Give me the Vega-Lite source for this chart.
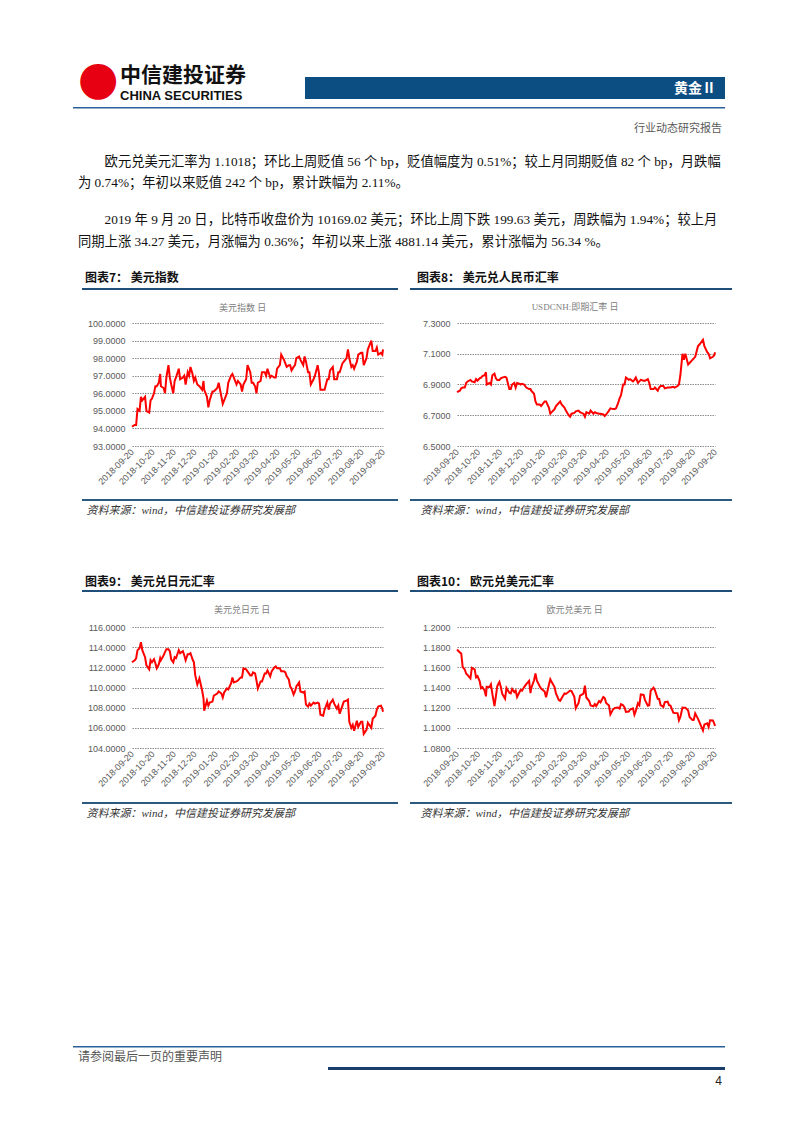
{
"$schema": "https://vega.github.io/schema/vega-lite/v6.json",
"padding": 0,
"autosize": {"type": "pad"},
"background": "white",
"bounds": "flush",
"spacing": 0,
"config": {"view": {"stroke": null}, "font": "Noto Sans CJK SC"},
"datasets": {"fx": [
{"d":"2018-09-20","dxy":94.1,"cnh":6.850,"jpy":112.5,"eur":1.1777},
{"d":"2018-09-24","dxy":94.2,"cnh":6.860,"jpy":112.7,"eur":1.1748},
{"d":"2018-09-26","dxy":94.2,"cnh":6.875,"jpy":112.9,"eur":1.1737},
{"d":"2018-09-28","dxy":95.1,"cnh":6.880,"jpy":113.7,"eur":1.1604},
{"d":"2018-10-01","dxy":95.0,"cnh":6.880,"jpy":113.9,"eur":1.1578},
{"d":"2018-10-03","dxy":95.8,"cnh":6.910,"jpy":114.5,"eur":1.1536},
{"d":"2018-10-05","dxy":95.6,"cnh":6.920,"jpy":113.7,"eur":1.1524},
{"d":"2018-10-09","dxy":95.8,"cnh":6.930,"jpy":113.0,"eur":1.1491},
{"d":"2018-10-11","dxy":95.0,"cnh":6.920,"jpy":112.2,"eur":1.1595},
{"d":"2018-10-15","dxy":94.9,"cnh":6.915,"jpy":111.8,"eur":1.1580},
{"d":"2018-10-17","dxy":95.6,"cnh":6.935,"jpy":112.7,"eur":1.1501},
{"d":"2018-10-19","dxy":95.7,"cnh":6.925,"jpy":112.5,"eur":1.1512},
{"d":"2018-10-22","dxy":96.0,"cnh":6.940,"jpy":112.8,"eur":1.1463},
{"d":"2018-10-24","dxy":96.4,"cnh":6.945,"jpy":112.4,"eur":1.1393},
{"d":"2018-10-26","dxy":96.4,"cnh":6.955,"jpy":111.9,"eur":1.1403},
{"d":"2018-10-29","dxy":96.6,"cnh":6.960,"jpy":112.3,"eur":1.1371},
{"d":"2018-10-31","dxy":97.1,"cnh":6.980,"jpy":112.9,"eur":1.1312},
{"d":"2018-11-01","dxy":96.4,"cnh":6.900,"jpy":112.7,"eur":1.1407},
{"d":"2018-11-05","dxy":96.3,"cnh":6.910,"jpy":113.2,"eur":1.1406},
{"d":"2018-11-07","dxy":96.0,"cnh":6.900,"jpy":113.5,"eur":1.1432},
{"d":"2018-11-09","dxy":96.9,"cnh":6.960,"jpy":113.8,"eur":1.1337},
{"d":"2018-11-12","dxy":97.6,"cnh":6.970,"jpy":113.8,"eur":1.1216},
{"d":"2018-11-14","dxy":96.9,"cnh":6.940,"jpy":113.6,"eur":1.1311},
{"d":"2018-11-16","dxy":96.5,"cnh":6.930,"jpy":112.8,"eur":1.1415},
{"d":"2018-11-19","dxy":96.0,"cnh":6.930,"jpy":112.5,"eur":1.1455},
{"d":"2018-11-21","dxy":96.7,"cnh":6.940,"jpy":113.0,"eur":1.1405},
{"d":"2018-11-23","dxy":96.9,"cnh":6.945,"jpy":112.9,"eur":1.1337},
{"d":"2018-11-27","dxy":97.4,"cnh":6.950,"jpy":113.7,"eur":1.1289},
{"d":"2018-11-29","dxy":96.8,"cnh":6.945,"jpy":113.4,"eur":1.1395},
{"d":"2018-12-03","dxy":96.9,"cnh":6.870,"jpy":113.6,"eur":1.1348},
{"d":"2018-12-05","dxy":97.0,"cnh":6.870,"jpy":113.2,"eur":1.1342},
{"d":"2018-12-07","dxy":96.5,"cnh":6.900,"jpy":112.7,"eur":1.1385},
{"d":"2018-12-10","dxy":97.2,"cnh":6.910,"jpy":113.3,"eur":1.1354},
{"d":"2018-12-12","dxy":97.0,"cnh":6.880,"jpy":113.3,"eur":1.1370},
{"d":"2018-12-14","dxy":97.5,"cnh":6.910,"jpy":113.4,"eur":1.1306},
{"d":"2018-12-17","dxy":97.1,"cnh":6.905,"jpy":112.8,"eur":1.1348},
{"d":"2018-12-19","dxy":96.7,"cnh":6.900,"jpy":112.5,"eur":1.1376},
{"d":"2018-12-21","dxy":96.9,"cnh":6.905,"jpy":111.2,"eur":1.1368},
{"d":"2018-12-24","dxy":96.5,"cnh":6.900,"jpy":110.3,"eur":1.1404},
{"d":"2018-12-27","dxy":96.4,"cnh":6.880,"jpy":110.9,"eur":1.1434},
{"d":"2018-12-31","dxy":96.2,"cnh":6.870,"jpy":109.7,"eur":1.1466},
{"d":"2019-01-02","dxy":96.7,"cnh":6.870,"jpy":108.9,"eur":1.1344},
{"d":"2019-01-03","dxy":96.2,"cnh":6.860,"jpy":107.7,"eur":1.1393},
{"d":"2019-01-07","dxy":95.8,"cnh":6.840,"jpy":108.7,"eur":1.1472},
{"d":"2019-01-09","dxy":95.2,"cnh":6.790,"jpy":108.2,"eur":1.1540},
{"d":"2019-01-11","dxy":95.6,"cnh":6.770,"jpy":108.5,"eur":1.1467},
{"d":"2019-01-15","dxy":96.1,"cnh":6.770,"jpy":108.6,"eur":1.1412},
{"d":"2019-01-17","dxy":96.1,"cnh":6.760,"jpy":109.2,"eur":1.1389},
{"d":"2019-01-22","dxy":96.3,"cnh":6.790,"jpy":109.4,"eur":1.1360},
{"d":"2019-01-24","dxy":96.6,"cnh":6.790,"jpy":109.6,"eur":1.1304},
{"d":"2019-01-28","dxy":95.8,"cnh":6.750,"jpy":109.4,"eur":1.1427},
{"d":"2019-01-30","dxy":95.4,"cnh":6.710,"jpy":109.0,"eur":1.1482},
{"d":"2019-02-01","dxy":95.6,"cnh":6.720,"jpy":109.5,"eur":1.1455},
{"d":"2019-02-05","dxy":96.0,"cnh":6.740,"jpy":109.9,"eur":1.1405},
{"d":"2019-02-07","dxy":96.6,"cnh":6.760,"jpy":109.8,"eur":1.1341},
{"d":"2019-02-11","dxy":97.0,"cnh":6.780,"jpy":110.4,"eur":1.1276},
{"d":"2019-02-13","dxy":97.1,"cnh":6.790,"jpy":111.0,"eur":1.1267},
{"d":"2019-02-15","dxy":96.9,"cnh":6.770,"jpy":110.5,"eur":1.1294},
{"d":"2019-02-19","dxy":96.5,"cnh":6.750,"jpy":110.6,"eur":1.1341},
{"d":"2019-02-21","dxy":96.7,"cnh":6.730,"jpy":110.7,"eur":1.1336},
{"d":"2019-02-25","dxy":96.5,"cnh":6.700,"jpy":111.0,"eur":1.1358},
{"d":"2019-02-27","dxy":96.1,"cnh":6.690,"jpy":111.0,"eur":1.1370},
{"d":"2019-03-01","dxy":96.5,"cnh":6.710,"jpy":111.9,"eur":1.1365},
{"d":"2019-03-05","dxy":96.8,"cnh":6.715,"jpy":111.8,"eur":1.1307},
{"d":"2019-03-07","dxy":97.6,"cnh":6.725,"jpy":111.6,"eur":1.1194},
{"d":"2019-03-11","dxy":97.2,"cnh":6.730,"jpy":111.2,"eur":1.1246},
{"d":"2019-03-13","dxy":96.6,"cnh":6.720,"jpy":111.2,"eur":1.1318},
{"d":"2019-03-15","dxy":96.6,"cnh":6.715,"jpy":111.5,"eur":1.1327},
{"d":"2019-03-18","dxy":96.4,"cnh":6.710,"jpy":111.4,"eur":1.1340},
{"d":"2019-03-20","dxy":96.0,"cnh":6.690,"jpy":110.7,"eur":1.1418},
{"d":"2019-03-22","dxy":96.6,"cnh":6.720,"jpy":109.9,"eur":1.1301},
{"d":"2019-03-26","dxy":96.7,"cnh":6.710,"jpy":110.6,"eur":1.1266},
{"d":"2019-03-28","dxy":97.2,"cnh":6.730,"jpy":110.6,"eur":1.1222},
{"d":"2019-04-01","dxy":97.2,"cnh":6.710,"jpy":111.4,"eur":1.1214},
{"d":"2019-04-03","dxy":97.0,"cnh":6.720,"jpy":111.4,"eur":1.1236},
{"d":"2019-04-05","dxy":97.4,"cnh":6.715,"jpy":111.7,"eur":1.1216},
{"d":"2019-04-09","dxy":96.9,"cnh":6.710,"jpy":111.1,"eur":1.1265},
{"d":"2019-04-11","dxy":97.0,"cnh":6.710,"jpy":111.6,"eur":1.1253},
{"d":"2019-04-15","dxy":96.9,"cnh":6.705,"jpy":112.0,"eur":1.1306},
{"d":"2019-04-17","dxy":96.9,"cnh":6.695,"jpy":112.1,"eur":1.1295},
{"d":"2019-04-19","dxy":97.4,"cnh":6.705,"jpy":111.9,"eur":1.1246},
{"d":"2019-04-23","dxy":97.6,"cnh":6.730,"jpy":111.9,"eur":1.1222},
{"d":"2019-04-25","dxy":98.2,"cnh":6.745,"jpy":111.6,"eur":1.1133},
{"d":"2019-04-29","dxy":97.9,"cnh":6.740,"jpy":111.6,"eur":1.1186},
{"d":"2019-05-01","dxy":97.7,"cnh":6.740,"jpy":111.5,"eur":1.1196},
{"d":"2019-05-03","dxy":97.5,"cnh":6.745,"jpy":111.1,"eur":1.1199},
{"d":"2019-05-06","dxy":97.6,"cnh":6.780,"jpy":110.8,"eur":1.1201},
{"d":"2019-05-08","dxy":97.6,"cnh":6.810,"jpy":110.1,"eur":1.1190},
{"d":"2019-05-10","dxy":97.3,"cnh":6.830,"jpy":109.9,"eur":1.1234},
{"d":"2019-05-13","dxy":97.5,"cnh":6.900,"jpy":109.3,"eur":1.1224},
{"d":"2019-05-15","dxy":97.6,"cnh":6.900,"jpy":109.6,"eur":1.1202},
{"d":"2019-05-17","dxy":98.0,"cnh":6.945,"jpy":110.1,"eur":1.1157},
{"d":"2019-05-21","dxy":98.1,"cnh":6.930,"jpy":110.5,"eur":1.1161},
{"d":"2019-05-23","dxy":97.9,"cnh":6.935,"jpy":109.6,"eur":1.1182},
{"d":"2019-05-27","dxy":97.6,"cnh":6.920,"jpy":109.5,"eur":1.1194},
{"d":"2019-05-29","dxy":98.1,"cnh":6.930,"jpy":109.6,"eur":1.1130},
{"d":"2019-05-31","dxy":97.8,"cnh":6.945,"jpy":108.3,"eur":1.1168},
{"d":"2019-06-03","dxy":97.2,"cnh":6.910,"jpy":108.1,"eur":1.1243},
{"d":"2019-06-05","dxy":97.2,"cnh":6.920,"jpy":108.4,"eur":1.1224},
{"d":"2019-06-07","dxy":96.5,"cnh":6.930,"jpy":108.2,"eur":1.1332},
{"d":"2019-06-11","dxy":96.8,"cnh":6.925,"jpy":108.5,"eur":1.1326},
{"d":"2019-06-13","dxy":97.0,"cnh":6.925,"jpy":108.4,"eur":1.1275},
{"d":"2019-06-17","dxy":97.6,"cnh":6.935,"jpy":108.5,"eur":1.1219},
{"d":"2019-06-19","dxy":97.1,"cnh":6.910,"jpy":108.4,"eur":1.1224},
{"d":"2019-06-21","dxy":96.2,"cnh":6.870,"jpy":107.3,"eur":1.1369},
{"d":"2019-06-25","dxy":96.2,"cnh":6.870,"jpy":107.2,"eur":1.1398},
{"d":"2019-06-27","dxy":96.2,"cnh":6.880,"jpy":107.8,"eur":1.1374},
{"d":"2019-07-01","dxy":96.8,"cnh":6.860,"jpy":108.5,"eur":1.1288},
{"d":"2019-07-03","dxy":96.8,"cnh":6.880,"jpy":107.8,"eur":1.1286},
{"d":"2019-07-05","dxy":97.3,"cnh":6.890,"jpy":108.4,"eur":1.1226},
{"d":"2019-07-09","dxy":97.5,"cnh":6.890,"jpy":108.8,"eur":1.1208},
{"d":"2019-07-11","dxy":96.8,"cnh":6.875,"jpy":108.4,"eur":1.1254},
{"d":"2019-07-15","dxy":96.8,"cnh":6.880,"jpy":107.9,"eur":1.1260},
{"d":"2019-07-17","dxy":97.2,"cnh":6.880,"jpy":108.2,"eur":1.1225},
{"d":"2019-07-19","dxy":97.2,"cnh":6.880,"jpy":107.4,"eur":1.1221},
{"d":"2019-07-23","dxy":97.7,"cnh":6.885,"jpy":108.2,"eur":1.1151},
{"d":"2019-07-25","dxy":97.8,"cnh":6.880,"jpy":108.6,"eur":1.1147},
{"d":"2019-07-29","dxy":98.0,"cnh":6.890,"jpy":108.7,"eur":1.1146},
{"d":"2019-07-31","dxy":98.5,"cnh":6.900,"jpy":108.8,"eur":1.1075},
{"d":"2019-08-02","dxy":98.0,"cnh":6.960,"jpy":106.6,"eur":1.1108},
{"d":"2019-08-05","dxy":97.5,"cnh":7.100,"jpy":106.0,"eur":1.1201},
{"d":"2019-08-07","dxy":97.6,"cnh":7.060,"jpy":106.3,"eur":1.1200},
{"d":"2019-08-09","dxy":97.4,"cnh":7.100,"jpy":105.7,"eur":1.1200},
{"d":"2019-08-13","dxy":97.8,"cnh":7.030,"jpy":106.7,"eur":1.1172},
{"d":"2019-08-15","dxy":98.2,"cnh":7.040,"jpy":106.1,"eur":1.1108},
{"d":"2019-08-19","dxy":98.3,"cnh":7.060,"jpy":106.6,"eur":1.1078},
{"d":"2019-08-21","dxy":98.3,"cnh":7.070,"jpy":106.6,"eur":1.1080},
{"d":"2019-08-23","dxy":97.6,"cnh":7.080,"jpy":105.4,"eur":1.1143},
{"d":"2019-08-27","dxy":98.0,"cnh":7.150,"jpy":105.8,"eur":1.1089},
{"d":"2019-08-29","dxy":98.5,"cnh":7.160,"jpy":106.5,"eur":1.1057},
{"d":"2019-09-03","dxy":99.0,"cnh":7.190,"jpy":106.0,"eur":1.0973},
{"d":"2019-09-05","dxy":98.4,"cnh":7.150,"jpy":106.9,"eur":1.1033},
{"d":"2019-09-09","dxy":98.4,"cnh":7.110,"jpy":107.2,"eur":1.1045},
{"d":"2019-09-11","dxy":98.6,"cnh":7.100,"jpy":107.8,"eur":1.1009},
{"d":"2019-09-13","dxy":98.2,"cnh":7.070,"jpy":108.1,"eur":1.1074},
{"d":"2019-09-17","dxy":98.3,"cnh":7.080,"jpy":108.2,"eur":1.1072},
{"d":"2019-09-19","dxy":98.2,"cnh":7.090,"jpy":107.9,"eur":1.1043},
{"d":"2019-09-20","dxy":98.5,"cnh":7.110,"jpy":107.6,"eur":1.1018}
]},
"vconcat": [
{"width": 802, "height": 40, "data": {"values": []}, "mark": "point", "encoding": {}, "view": {"fill": "#ffffff", "stroke": null},
 "title": {"text": "●", "orient": "bottom", "anchor": "start", "frame": "group", "align": "center", "baseline": "middle", "dx": 98, "offset": 40, "font": "DejaVu Sans", "fontSize": 47, "fontWeight": "normal", "color": "#e60012"}},
{"width": 802, "height": 37, "data": {"values": []}, "mark": "point", "encoding": {},
 "title": {"text": "中信建投证券", "subtitle": "CHINA SECURITIES", "orient": "bottom", "anchor": "start", "frame": "group", "align": "left", "baseline": "middle", "dx": 120, "offset": -1.4, "font": "Noto Sans CJK SC", "fontSize": 21, "fontWeight": "bold", "color": "#111111", "subtitleFont": "Liberation Sans", "subtitleFontSize": 13, "subtitleFontWeight": "bold", "subtitleColor": "#111111", "subtitlePadding": -0.6}},
{"width": 802, "height": 22, "data": {"values": []}, "mark": "point", "encoding": {},
 "view": {"stroke": null, "fill": {"gradient": "linear", "x1": 0, "y1": 0, "x2": 1, "y2": 0, "stops": [{"offset": 0, "color": "rgba(255,255,255,0)"}, {"offset": 0.3803, "color": "rgba(255,255,255,0)"}, {"offset": 0.3803, "color": "#0d4e82"}, {"offset": 0.904, "color": "#0d4e82"}, {"offset": 0.904, "color": "rgba(255,255,255,0)"}, {"offset": 1, "color": "rgba(255,255,255,0)"}]}},
 "title": {"text": "黄金Ⅱ", "orient": "bottom", "anchor": "end", "frame": "group", "align": "right", "baseline": "middle", "dx": -86, "offset": -9.9, "font": "Noto Sans CJK SC", "fontSize": 14, "fontWeight": "bold", "color": "#ffffff"}},
{"width": 802, "height": 8, "data": {"values": []}, "mark": "point", "encoding": {}},
{"width": 802, "height": 1.5, "data": {"values": []}, "mark": "point", "encoding": {},
 "view": {"stroke": null, "fill": {"gradient": "linear", "x1": 0, "y1": 0, "x2": 1, "y2": 0, "stops": [{"offset": 0, "color": "rgba(255,255,255,0)"}, {"offset": 0.091, "color": "rgba(255,255,255,0)"}, {"offset": 0.091, "color": "#2a6099"}, {"offset": 0.904, "color": "#2a6099"}, {"offset": 0.904, "color": "rgba(255,255,255,0)"}, {"offset": 1, "color": "rgba(255,255,255,0)"}]}},
 "title": {"text": "行业动态研究报告", "orient": "bottom", "anchor": "end", "frame": "group", "align": "right", "baseline": "middle", "dx": -80, "offset": 20.4, "font": "Noto Sans CJK SC", "fontSize": 11, "fontWeight": "normal", "color": "#595959"}},
{"width": 802, "height": 91.5, "data": {"values": []}, "mark": "point", "encoding": {},
 "title": {"text": ["\u200c\u3000\u3000欧元兑美元汇率为 1.1018；环比上周贬值 56 个 bp，贬值幅度为 0.51%；较上月同期贬值 82 个 bp，月跌幅", "为 0.74%；年初以来贬值 242 个 bp，累计跌幅为 2.11%。"],
  "subtitle": ["\u200c\u3000\u30002019 年 9 月 20 日，比特币收盘价为 10169.02 美元；环比上周下跌 199.63 美元，周跌幅为 1.94%；较上月", "同期上涨 34.27 美元，月涨幅为 0.36%；年初以来上涨 4881.14 美元，累计涨幅为 56.34 %。"],
  "orient": "bottom", "anchor": "start", "frame": "group", "align": "left", "baseline": "middle", "dx": 78, "offset": -38.9,
  "font": "Liberation Serif, Noto Sans CJK SC", "fontSize": 13.3, "fontWeight": "normal", "color": "#111111", "lineHeight": 21.5,
  "subtitleFont": "Liberation Serif, Noto Sans CJK SC", "subtitleFontSize": 13.3, "subtitleFontWeight": "normal", "subtitleColor": "#111111", "subtitleLineHeight": 22, "subtitlePadding": 23.2}},
{"width": 802, "height": 87, "data": {"values": []}, "mark": "point", "encoding": {},
 "title": {"text": "图表7：  美元指数", "orient": "bottom", "anchor": "start", "frame": "group", "align": "left", "baseline": "middle", "dx": 85, "offset": -10, "font": "Noto Sans CJK SC", "fontSize": 12, "fontWeight": "bold", "color": "#111111"}},
{"width": 802, "height": 2, "data": {"values": []}, "mark": "point", "encoding": {},
 "view": {"stroke": null, "fill": {"gradient": "linear", "x1": 0, "y1": 0, "x2": 1, "y2": 0, "stops": [{"offset": 0, "color": "rgba(255,255,255,0)"}, {"offset": 0.1022, "color": "rgba(255,255,255,0)"}, {"offset": 0.1022, "color": "#1f4e79"}, {"offset": 0.4963, "color": "#1f4e79"}, {"offset": 0.4963, "color": "rgba(255,255,255,0)"}, {"offset": 0.5112, "color": "rgba(255,255,255,0)"}, {"offset": 0.5112, "color": "#1f4e79"}, {"offset": 0.9127, "color": "#1f4e79"}, {"offset": 0.9127, "color": "rgba(255,255,255,0)"}, {"offset": 1, "color": "rgba(255,255,255,0)"}]}},
 "title": {"text": "图表8：  美元兑人民币汇率", "orient": "bottom", "anchor": "start", "frame": "group", "align": "left", "baseline": "middle", "dx": 417, "offset": -12, "font": "Noto Sans CJK SC", "fontSize": 12, "fontWeight": "bold", "color": "#111111"}},
{"width": 802, "height": 33, "data": {"values": []}, "mark": "point", "encoding": {}},
{"width": 802, "height": 123,
 "layer": [
  {"data": {"name": "fx"}, "mark": {"type": "line", "color": "#ff0000", "strokeWidth": 2},
   "encoding": {
    "x": {"field": "d", "type": "temporal",
     "scale": {"type": "utc", "domain": [{"year": 2018, "month": 9, "date": 20, "utc": true}, {"year": 2019, "month": 9, "date": 20, "utc": true}], "range": [132, 383]},
     "axis": {"orient": "bottom", "values": [{"year": 2018, "month": 9, "date": 20, "utc": true}, {"year": 2018, "month": 10, "date": 20, "utc": true}, {"year": 2018, "month": 11, "date": 20, "utc": true}, {"year": 2018, "month": 12, "date": 20, "utc": true}, {"year": 2019, "month": 1, "date": 20, "utc": true}, {"year": 2019, "month": 2, "date": 20, "utc": true}, {"year": 2019, "month": 3, "date": 20, "utc": true}, {"year": 2019, "month": 4, "date": 20, "utc": true}, {"year": 2019, "month": 5, "date": 20, "utc": true}, {"year": 2019, "month": 6, "date": 20, "utc": true}, {"year": 2019, "month": 7, "date": 20, "utc": true}, {"year": 2019, "month": 8, "date": 20, "utc": true}, {"year": 2019, "month": 9, "date": 20, "utc": true}],
      "format": "%Y-%m-%d", "labelAngle": -45, "labelAlign": "right", "labelBaseline": "middle", "labelFont": "Liberation Sans", "labelFontSize": 9, "labelColor": "#595959", "labelPadding": 4, "labelOverlap": false, "labelBound": false, "labelFlush": false, "domain": false, "ticks": false, "tickSize": 0, "grid": false,
      "title": "资料来源：wind，中信建投证券研究发展部", "titleX": 86, "titleY": 64.4, "titleAlign": "left", "titleBaseline": "middle", "titleAngle": 0, "titleFont": "Liberation Serif, Noto Sans CJK SC", "titleFontSize": 11, "titleFontStyle": "italic", "titleFontWeight": "normal", "titleColor": "#333333"}},
    "y": {"field": "dxy", "type": "quantitative", "scale": {"domain": [93, 100], "zero": false, "nice": false},
     "axis": {"orient": "left", "offset": -132, "values": [93, 94, 95, 96, 97, 98, 99, 100], "format": ".4f", "grid": true, "gridColor": "#8c8c8c", "gridDash": [1.5, 1], "gridWidth": 1, "domain": false, "ticks": false, "tickSize": 0, "labelFont": "Liberation Sans", "labelFontSize": 9, "labelColor": "#595959", "labelPadding": 7, "labelOverlap": false, "labelBound": false, "labelFlush": false,
      "title": "美元指数 日", "titleX": 110, "titleY": -15.3, "titleAngle": 0, "titleAlign": "center", "titleBaseline": "middle", "titleFont": "Liberation Serif, Noto Sans CJK SC", "titleFontSize": 9, "titleFontWeight": "normal", "titleColor": "#808080"}}
   }},
  {"data": {"name": "fx"}, "mark": {"type": "line", "color": "#ff0000", "strokeWidth": 2},
   "encoding": {
    "x": {"field": "d", "type": "temporal",
     "scale": {"type": "utc", "domain": [{"year": 2018, "month": 9, "date": 20, "utc": true}, {"year": 2019, "month": 9, "date": 20, "utc": true}], "range": [457, 715]},
     "axis": {"orient": "bottom", "values": [{"year": 2018, "month": 9, "date": 20, "utc": true}, {"year": 2018, "month": 10, "date": 20, "utc": true}, {"year": 2018, "month": 11, "date": 20, "utc": true}, {"year": 2018, "month": 12, "date": 20, "utc": true}, {"year": 2019, "month": 1, "date": 20, "utc": true}, {"year": 2019, "month": 2, "date": 20, "utc": true}, {"year": 2019, "month": 3, "date": 20, "utc": true}, {"year": 2019, "month": 4, "date": 20, "utc": true}, {"year": 2019, "month": 5, "date": 20, "utc": true}, {"year": 2019, "month": 6, "date": 20, "utc": true}, {"year": 2019, "month": 7, "date": 20, "utc": true}, {"year": 2019, "month": 8, "date": 20, "utc": true}, {"year": 2019, "month": 9, "date": 20, "utc": true}],
      "format": "%Y-%m-%d", "labelAngle": -45, "labelAlign": "right", "labelBaseline": "middle", "labelFont": "Liberation Sans", "labelFontSize": 9, "labelColor": "#595959", "labelPadding": 4, "labelOverlap": false, "labelBound": false, "labelFlush": false, "domain": false, "ticks": false, "tickSize": 0, "grid": false,
      "title": "资料来源：wind，中信建投证券研究发展部", "titleX": 420, "titleY": 64.4, "titleAlign": "left", "titleBaseline": "middle", "titleAngle": 0, "titleFont": "Liberation Serif, Noto Sans CJK SC", "titleFontSize": 11, "titleFontStyle": "italic", "titleFontWeight": "normal", "titleColor": "#333333"}},
    "y": {"field": "cnh", "type": "quantitative", "scale": {"domain": [6.5, 7.3], "zero": false, "nice": false},
     "axis": {"orient": "left", "offset": -457, "values": [6.5, 6.7, 6.9, 7.1, 7.3], "format": ".4f", "grid": true, "gridColor": "#8c8c8c", "gridDash": [1.5, 1], "gridWidth": 1, "domain": false, "ticks": false, "tickSize": 0, "labelFont": "Liberation Sans", "labelFontSize": 9, "labelColor": "#595959", "labelPadding": 7, "labelOverlap": false, "labelBound": false, "labelFlush": false,
      "title": "USDCNH:即期汇率 日", "titleX": 117.5, "titleY": -16.3, "titleAngle": 0, "titleAlign": "center", "titleBaseline": "middle", "titleFont": "Liberation Serif, Noto Sans CJK SC", "titleFontSize": 9, "titleFontWeight": "normal", "titleColor": "#808080"}}
   }}
 ],
 "resolve": {"scale": {"x": "independent", "y": "independent"}, "axis": {"x": "independent", "y": "independent"}}},
{"width": 802, "height": 53, "data": {"values": []}, "mark": "point", "encoding": {}},
{"width": 802, "height": 2, "data": {"values": []}, "mark": "point", "encoding": {},
 "view": {"stroke": null, "fill": {"gradient": "linear", "x1": 0, "y1": 0, "x2": 1, "y2": 0, "stops": [{"offset": 0, "color": "rgba(255,255,255,0)"}, {"offset": 0.1022, "color": "rgba(255,255,255,0)"}, {"offset": 0.1022, "color": "#2b5a7e"}, {"offset": 0.4963, "color": "#2b5a7e"}, {"offset": 0.4963, "color": "rgba(255,255,255,0)"}, {"offset": 0.5112, "color": "rgba(255,255,255,0)"}, {"offset": 0.5112, "color": "#2b5a7e"}, {"offset": 0.9127, "color": "#2b5a7e"}, {"offset": 0.9127, "color": "rgba(255,255,255,0)"}, {"offset": 1, "color": "rgba(255,255,255,0)"}]}}},
{"width": 802, "height": 89, "data": {"values": []}, "mark": "point", "encoding": {},
 "title": {"text": "图表9：  美元兑日元汇率", "orient": "bottom", "anchor": "start", "frame": "group", "align": "left", "baseline": "middle", "dx": 85, "offset": -8, "font": "Noto Sans CJK SC", "fontSize": 12, "fontWeight": "bold", "color": "#111111"}},
{"width": 802, "height": 2, "data": {"values": []}, "mark": "point", "encoding": {},
 "view": {"stroke": null, "fill": {"gradient": "linear", "x1": 0, "y1": 0, "x2": 1, "y2": 0, "stops": [{"offset": 0, "color": "rgba(255,255,255,0)"}, {"offset": 0.1022, "color": "rgba(255,255,255,0)"}, {"offset": 0.1022, "color": "#1f4e79"}, {"offset": 0.4963, "color": "#1f4e79"}, {"offset": 0.4963, "color": "rgba(255,255,255,0)"}, {"offset": 0.5112, "color": "rgba(255,255,255,0)"}, {"offset": 0.5112, "color": "#1f4e79"}, {"offset": 0.9127, "color": "#1f4e79"}, {"offset": 0.9127, "color": "rgba(255,255,255,0)"}, {"offset": 1, "color": "rgba(255,255,255,0)"}]}},
 "title": {"text": "图表10：  欧元兑美元汇率", "orient": "bottom", "anchor": "start", "frame": "group", "align": "left", "baseline": "middle", "dx": 417, "offset": -10, "font": "Noto Sans CJK SC", "fontSize": 12, "fontWeight": "bold", "color": "#111111"}},
{"width": 802, "height": 35, "data": {"values": []}, "mark": "point", "encoding": {}},
{"width": 802, "height": 121,
 "layer": [
  {"data": {"name": "fx"}, "mark": {"type": "line", "color": "#ff0000", "strokeWidth": 2},
   "encoding": {
    "x": {"field": "d", "type": "temporal",
     "scale": {"type": "utc", "domain": [{"year": 2018, "month": 9, "date": 20, "utc": true}, {"year": 2019, "month": 9, "date": 20, "utc": true}], "range": [132, 383]},
     "axis": {"orient": "bottom", "values": [{"year": 2018, "month": 9, "date": 20, "utc": true}, {"year": 2018, "month": 10, "date": 20, "utc": true}, {"year": 2018, "month": 11, "date": 20, "utc": true}, {"year": 2018, "month": 12, "date": 20, "utc": true}, {"year": 2019, "month": 1, "date": 20, "utc": true}, {"year": 2019, "month": 2, "date": 20, "utc": true}, {"year": 2019, "month": 3, "date": 20, "utc": true}, {"year": 2019, "month": 4, "date": 20, "utc": true}, {"year": 2019, "month": 5, "date": 20, "utc": true}, {"year": 2019, "month": 6, "date": 20, "utc": true}, {"year": 2019, "month": 7, "date": 20, "utc": true}, {"year": 2019, "month": 8, "date": 20, "utc": true}, {"year": 2019, "month": 9, "date": 20, "utc": true}],
      "format": "%Y-%m-%d", "labelAngle": -45, "labelAlign": "right", "labelBaseline": "middle", "labelFont": "Liberation Sans", "labelFontSize": 9, "labelColor": "#595959", "labelPadding": 4, "labelOverlap": false, "labelBound": false, "labelFlush": false, "domain": false, "ticks": false, "tickSize": 0, "grid": false,
      "title": "资料来源：wind，中信建投证券研究发展部", "titleX": 86, "titleY": 65.9, "titleAlign": "left", "titleBaseline": "middle", "titleAngle": 0, "titleFont": "Liberation Serif, Noto Sans CJK SC", "titleFontSize": 11, "titleFontStyle": "italic", "titleFontWeight": "normal", "titleColor": "#333333"}},
    "y": {"field": "jpy", "type": "quantitative", "scale": {"domain": [104, 116], "zero": false, "nice": false},
     "axis": {"orient": "left", "offset": -132, "values": [104, 106, 108, 110, 112, 114, 116], "format": ".4f", "grid": true, "gridColor": "#8c8c8c", "gridDash": [1.5, 1], "gridWidth": 1, "domain": false, "ticks": false, "tickSize": 0, "labelFont": "Liberation Sans", "labelFontSize": 9, "labelColor": "#595959", "labelPadding": 7, "labelOverlap": false, "labelBound": false, "labelFlush": false,
      "title": "美元兑日元 日", "titleX": 109.5, "titleY": -17.3, "titleAngle": 0, "titleAlign": "center", "titleBaseline": "middle", "titleFont": "Liberation Serif, Noto Sans CJK SC", "titleFontSize": 9, "titleFontWeight": "normal", "titleColor": "#808080"}}
   }},
  {"data": {"name": "fx"}, "mark": {"type": "line", "color": "#ff0000", "strokeWidth": 2},
   "encoding": {
    "x": {"field": "d", "type": "temporal",
     "scale": {"type": "utc", "domain": [{"year": 2018, "month": 9, "date": 20, "utc": true}, {"year": 2019, "month": 9, "date": 20, "utc": true}], "range": [457, 715]},
     "axis": {"orient": "bottom", "values": [{"year": 2018, "month": 9, "date": 20, "utc": true}, {"year": 2018, "month": 10, "date": 20, "utc": true}, {"year": 2018, "month": 11, "date": 20, "utc": true}, {"year": 2018, "month": 12, "date": 20, "utc": true}, {"year": 2019, "month": 1, "date": 20, "utc": true}, {"year": 2019, "month": 2, "date": 20, "utc": true}, {"year": 2019, "month": 3, "date": 20, "utc": true}, {"year": 2019, "month": 4, "date": 20, "utc": true}, {"year": 2019, "month": 5, "date": 20, "utc": true}, {"year": 2019, "month": 6, "date": 20, "utc": true}, {"year": 2019, "month": 7, "date": 20, "utc": true}, {"year": 2019, "month": 8, "date": 20, "utc": true}, {"year": 2019, "month": 9, "date": 20, "utc": true}],
      "format": "%Y-%m-%d", "labelAngle": -45, "labelAlign": "right", "labelBaseline": "middle", "labelFont": "Liberation Sans", "labelFontSize": 9, "labelColor": "#595959", "labelPadding": 4, "labelOverlap": false, "labelBound": false, "labelFlush": false, "domain": false, "ticks": false, "tickSize": 0, "grid": false,
      "title": "资料来源：wind，中信建投证券研究发展部", "titleX": 420, "titleY": 65.9, "titleAlign": "left", "titleBaseline": "middle", "titleAngle": 0, "titleFont": "Liberation Serif, Noto Sans CJK SC", "titleFontSize": 11, "titleFontStyle": "italic", "titleFontWeight": "normal", "titleColor": "#333333"}},
    "y": {"field": "eur", "type": "quantitative", "scale": {"domain": [1.08, 1.2], "zero": false, "nice": false},
     "axis": {"orient": "left", "offset": -457, "values": [1.08, 1.1, 1.12, 1.14, 1.16, 1.18, 1.2], "format": ".4f", "grid": true, "gridColor": "#8c8c8c", "gridDash": [1.5, 1], "gridWidth": 1, "domain": false, "ticks": false, "tickSize": 0, "labelFont": "Liberation Sans", "labelFontSize": 9, "labelColor": "#595959", "labelPadding": 7, "labelOverlap": false, "labelBound": false, "labelFlush": false,
      "title": "欧元兑美元 日", "titleX": 117, "titleY": -17.3, "titleAngle": 0, "titleAlign": "center", "titleBaseline": "middle", "titleFont": "Liberation Serif, Noto Sans CJK SC", "titleFontSize": 9, "titleFontWeight": "normal", "titleColor": "#808080"}}
   }}
 ],
 "resolve": {"scale": {"x": "independent", "y": "independent"}, "axis": {"x": "independent", "y": "independent"}}},
{"width": 802, "height": 54, "data": {"values": []}, "mark": "point", "encoding": {}},
{"width": 802, "height": 2, "data": {"values": []}, "mark": "point", "encoding": {},
 "view": {"stroke": null, "fill": {"gradient": "linear", "x1": 0, "y1": 0, "x2": 1, "y2": 0, "stops": [{"offset": 0, "color": "rgba(255,255,255,0)"}, {"offset": 0.1022, "color": "rgba(255,255,255,0)"}, {"offset": 0.1022, "color": "#2b5a7e"}, {"offset": 0.4963, "color": "#2b5a7e"}, {"offset": 0.4963, "color": "rgba(255,255,255,0)"}, {"offset": 0.5112, "color": "rgba(255,255,255,0)"}, {"offset": 0.5112, "color": "#2b5a7e"}, {"offset": 0.9127, "color": "#2b5a7e"}, {"offset": 0.9127, "color": "rgba(255,255,255,0)"}, {"offset": 1, "color": "rgba(255,255,255,0)"}]}}},
{"width": 802, "height": 242, "data": {"values": []}, "mark": "point", "encoding": {}},
{"width": 802, "height": 1.5, "data": {"values": []}, "mark": "point", "encoding": {},
 "view": {"stroke": null, "fill": {"gradient": "linear", "x1": 0, "y1": 0, "x2": 1, "y2": 0, "stops": [{"offset": 0, "color": "rgba(255,255,255,0)"}, {"offset": 0.091, "color": "rgba(255,255,255,0)"}, {"offset": 0.091, "color": "#2a6099"}, {"offset": 0.904, "color": "#2a6099"}, {"offset": 0.904, "color": "rgba(255,255,255,0)"}, {"offset": 1, "color": "rgba(255,255,255,0)"}]}},
 "title": {"text": "请参阅最后一页的重要声明", "orient": "bottom", "anchor": "start", "frame": "group", "align": "left", "baseline": "middle", "dx": 78, "offset": 9.5, "font": "Noto Sans CJK SC", "fontSize": 12, "fontWeight": "normal", "color": "#555555"}},
{"width": 802, "height": 18.5, "data": {"values": []}, "mark": "point", "encoding": {}},
{"width": 802, "height": 3, "data": {"values": []}, "mark": "point", "encoding": {},
 "view": {"stroke": null, "fill": {"gradient": "linear", "x1": 0, "y1": 0, "x2": 1, "y2": 0, "stops": [{"offset": 0, "color": "rgba(255,255,255,0)"}, {"offset": 0.409, "color": "rgba(255,255,255,0)"}, {"offset": 0.409, "color": "#1b3d6b"}, {"offset": 0.904, "color": "#1b3d6b"}, {"offset": 0.904, "color": "rgba(255,255,255,0)"}, {"offset": 1, "color": "rgba(255,255,255,0)"}]}}},
{"width": 802, "height": 65, "data": {"values": []}, "mark": "point", "encoding": {},
 "title": {"text": "4", "orient": "top", "anchor": "end", "frame": "group", "align": "right", "baseline": "middle", "dx": -80, "offset": -22.7, "font": "Liberation Sans", "fontSize": 12, "fontWeight": "normal", "color": "#222222"}}
]
}
